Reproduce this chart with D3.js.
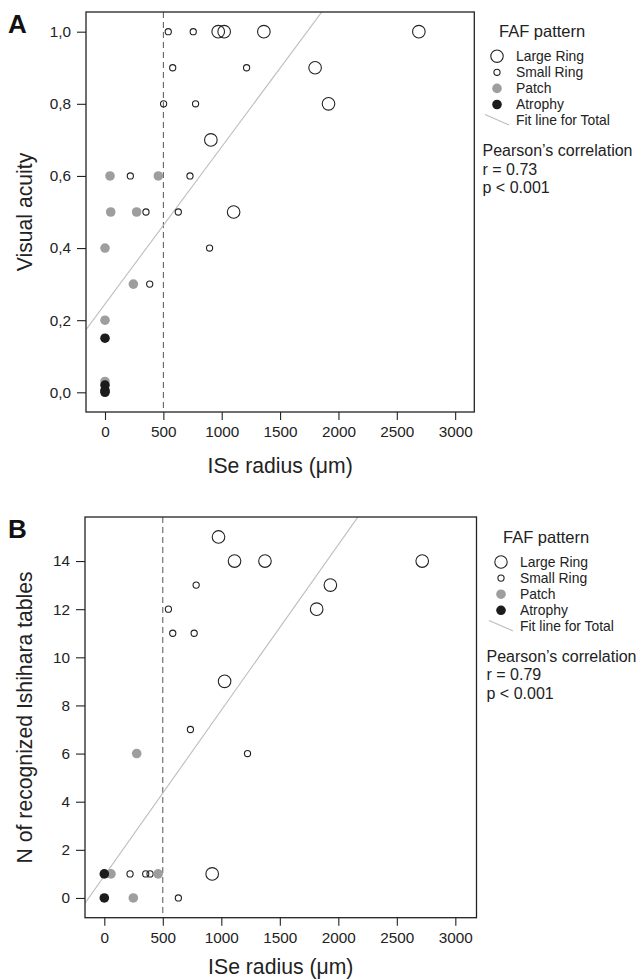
<!DOCTYPE html>
<html>
<head>
<meta charset="utf-8">
<script src="https://cdn.jsdelivr.net/npm/d3@7"></script>
<style>
  body { margin: 0; background: #fff; }
  svg { font-family: "Liberation Sans", Arial, Helvetica, sans-serif; }
  .axis text { font-size: 15.3px; fill: #222; }
  .axis line { stroke: #222; stroke-width: 1.1; }
  .axis path { display: none; }
</style>
</head>
<body>
<div class="chart"></div>
<script>
// ---- data: panel A, visual acuity vs ISe radius ----
const acuityLargeRing = [
    {r: 970, v: 1.0}, {r: 1021, v: 1.0}, {r: 1361, v: 1.0}, {r: 2689, v: 1.0},
    {r: 1800, v: 0.9}, {r: 1915, v: 0.8}, {r: 907, v: 0.7}, {r: 1102, v: 0.5}
];
const acuitySmallRing = [
    {r: 542, v: 1.0}, {r: 756, v: 1.0}, {r: 580, v: 0.9}, {r: 1213, v: 0.9},
    {r: 502, v: 0.8}, {r: 776, v: 0.8}, {r: 217, v: 0.6}, {r: 728, v: 0.6},
    {r: 351, v: 0.5}, {r: 628, v: 0.5}, {r: 896, v: 0.4}, {r: 383, v: 0.3}
];
const acuityPatch = [
    {r: 43, v: 0.6}, {r: 457, v: 0.6}, {r: 49, v: 0.5}, {r: 271, v: 0.5},
    {r: 0, v: 0.4}, {r: 243, v: 0.3}, {r: 0, v: 0.2}, {r: 0, v: 0.03}
];
const acuityAtrophy = [
    {r: 0, v: 0.15}, {r: 0, v: 0.02}, {r: 0, v: 0.005}, {r: 0, v: 0.0}
];
const acuityFit = {intercept: 0.245, slope: 0.000436};
const acuityStats = ["Pearson\u2019s correlation", "r = 0.73", "p < 0.001"];

// ---- data: panel B, Ishihara tables vs ISe radius ----
const ishiharaLargeRing = [
    {r: 976, v: 15}, {r: 1113, v: 14}, {r: 1373, v: 14}, {r: 2717, v: 14},
    {r: 1932, v: 13}, {r: 1815, v: 12}, {r: 1028, v: 9}, {r: 922, v: 1}
];
const ishiharaSmallRing = [
    {r: 785, v: 13}, {r: 548, v: 12}, {r: 585, v: 11}, {r: 768, v: 11},
    {r: 736, v: 7}, {r: 1224, v: 6}, {r: 220, v: 1}, {r: 354, v: 1},
    {r: 391, v: 1}, {r: 633, v: 0}
];
const ishiharaPatch = [
    {r: 277, v: 6}, {r: 57, v: 1}, {r: 460, v: 1}, {r: 248, v: 0}
];
const ishiharaAtrophy = [
    {r: 0, v: 1}, {r: 0, v: 0}
];
const ishiharaFit = {intercept: 0.92, slope: 0.00688};
const ishiharaStats = ["Pearson\u2019s correlation", "r = 0.79", "p < 0.001"];

// ---- tick values and labels ----
const radiusTicks = [0, 500, 1000, 1500, 2000, 2500, 3000];
const acuityTicks = [0, 0.2, 0.4, 0.6, 0.8, 1.0];
const ishiharaTicks = [0, 2, 4, 6, 8, 10, 12, 14];
const legendLabels = ["Large Ring", "Small Ring", "Patch", "Atrophy", "Fit line for Total"];
const cutoffRadius = 500;

const GRAY = "#9e9e9e", BLACK = "#1c1c1c", INK = "#222";

const svg = d3.select(".chart")
    .append("svg")
    .attr("width", 637)
    .attr("height", 980);

function ScatterPanel(opt) {
    const xScale = d3.scaleLinear().domain(opt.xDomain).range([opt.left, opt.right]);
    const yScale = d3.scaleLinear().domain(opt.yDomain).range([opt.bottom, opt.top]);

    const g = svg.append("g");

    // clip for the fit line
    g.append("clipPath")
        .attr("id", opt.id + "-clip")
        .append("rect")
        .attr("x", opt.left).attr("y", opt.top)
        .attr("width", opt.right - opt.left)
        .attr("height", opt.bottom - opt.top);

    // cutoff dashed line
    g.append("line")
        .attr("x1", xScale(cutoffRadius)).attr("x2", xScale(cutoffRadius))
        .attr("y1", opt.top).attr("y2", opt.bottom)
        .attr("stroke", "#555")
        .attr("stroke-width", 1)
        .attr("stroke-dasharray", "6,4");

    // fit line
    const fitLine = d3.line()
        .x(d => xScale(d))
        .y(d => yScale(opt.fit.intercept + opt.fit.slope * d));
    g.append("path")
        .datum(opt.xDomain)
        .attr("d", fitLine)
        .attr("clip-path", "url(#" + opt.id + "-clip)")
        .attr("fill", "none")
        .attr("stroke", "#bdbdbd")
        .attr("stroke-width", 1.1);

    // points
    function dots(data, radius, fill, stroke) {
        g.selectAll(null)
            .data(data)
            .join("circle")
            .attr("cx", d => xScale(d.r))
            .attr("cy", d => yScale(d.v))
            .attr("r", radius)
            .attr("fill", fill)
            .attr("stroke", stroke)
            .attr("stroke-width", 1.1);
    }
    dots(opt.large, 6.3, "none", INK);
    dots(opt.small, 3.1, "none", INK);
    dots(opt.patch, 4.8, GRAY, "none");
    dots(opt.atrophy, 4.8, BLACK, "none");

    // box
    g.append("rect")
        .attr("x", opt.left).attr("y", opt.top)
        .attr("width", opt.right - opt.left)
        .attr("height", opt.bottom - opt.top)
        .attr("fill", "none")
        .attr("stroke", INK)
        .attr("stroke-width", 1.3);

    // axes
    g.append("g")
        .attr("class", "axis")
        .attr("transform", "translate(0," + opt.bottom + ")")
        .call(d3.axisBottom(xScale).tickValues(radiusTicks).tickSize(8).tickPadding(6)
            .tickFormat(d3.format("d")));

    g.append("g")
        .attr("class", "axis")
        .attr("transform", "translate(" + opt.left + ",0)")
        .call(d3.axisLeft(yScale).tickValues(opt.yTicks).tickSize(9).tickPadding(6)
            .tickFormat(opt.yFormat));

    // axis titles
    g.append("text")
        .attr("x", (opt.left + opt.right) / 2)
        .attr("y", opt.bottom + opt.xTitleDy)
        .attr("text-anchor", "middle")
        .attr("font-size", 21.2)
        .attr("fill", INK)
        .text("ISe radius (\u03bcm)");

    g.append("text")
        .attr("transform", "translate(" + 32 + "," + ((opt.top + opt.bottom) / 2) + ") rotate(-90)")
        .attr("text-anchor", "middle")
        .attr("font-size", 21.2)
        .attr("fill", INK)
        .text(opt.yTitle);

    // panel letter
    g.append("text")
        .attr("x", 8)
        .attr("y", opt.top + opt.letterDy)
        .attr("font-size", 26)
        .attr("font-weight", "bold")
        .attr("fill", "#111")
        .text(opt.letter);

    // legend
    const lx = opt.legendX, ly = opt.legendY;
    g.append("text")
        .attr("x", lx + 2).attr("y", ly)
        .attr("font-size", 16.5)
        .attr("fill", INK)
        .text("FAF pattern");

    const sym = [
        {r: 6.2, fill: "none", stroke: INK},
        {r: 3.1, fill: "none", stroke: INK},
        {r: 4.8, fill: GRAY, stroke: "none"},
        {r: 4.8, fill: BLACK, stroke: "none"}
    ];
    legendLabels.forEach((label, i) => {
        const yy = ly + 19.5 + i * 16.1;
        if (i < 4) {
            g.append("circle")
                .attr("cx", lx).attr("cy", yy)
                .attr("r", sym[i].r)
                .attr("fill", sym[i].fill)
                .attr("stroke", sym[i].stroke)
                .attr("stroke-width", 1.1);
        } else {
            g.append("line")
                .attr("x1", lx - 12).attr("y1", yy - 6)
                .attr("x2", lx + 12).attr("y2", yy + 4.5)
                .attr("stroke", "#bdbdbd")
                .attr("stroke-width", 1.1);
        }
        g.append("text")
            .attr("x", lx + 19).attr("y", yy)
            .attr("dy", "0.35em")
            .attr("font-size", 13.9)
            .attr("fill", INK)
            .text(label);
    });

    opt.stats.forEach((s, i) => {
        g.append("text")
            .attr("x", lx - 14.5).attr("y", ly + 19.5 + 94.5 + i * 18.2)
            .attr("dy", "0.35em")
            .attr("font-size", 16)
            .attr("fill", INK)
            .text(s);
    });
}

const commaFormat = d => d3.format(".1f")(d).replace(".", ",");

ScatterPanel({
    id: "a", letter: "A", letterDy: 21,
    left: 86, right: 474.3, top: 12, bottom: 412,
    xDomain: [-162.8, 3164], yDomain: [-0.0546, 1.0546],
    yTicks: acuityTicks, yFormat: commaFormat,
    yTitle: "Visual acuity", xTitleDy: 61,
    large: acuityLargeRing, small: acuitySmallRing, patch: acuityPatch, atrophy: acuityAtrophy,
    fit: acuityFit, stats: acuityStats,
    legendX: 497, legendY: 36.7
});

ScatterPanel({
    id: "b", letter: "B", letterDy: 20.7,
    left: 85, right: 476.5, top: 517, bottom: 917.7,
    xDomain: [-165, 3181], yDomain: [-0.82, 15.83],
    yTicks: ishiharaTicks, yFormat: d3.format("d"),
    yTitle: "N of recognized Ishihara tables", xTitleDy: 56.5,
    large: ishiharaLargeRing, small: ishiharaSmallRing, patch: ishiharaPatch, atrophy: ishiharaAtrophy,
    fit: ishiharaFit, stats: ishiharaStats,
    legendX: 501, legendY: 542.5
});
</script>
</body>
</html>
